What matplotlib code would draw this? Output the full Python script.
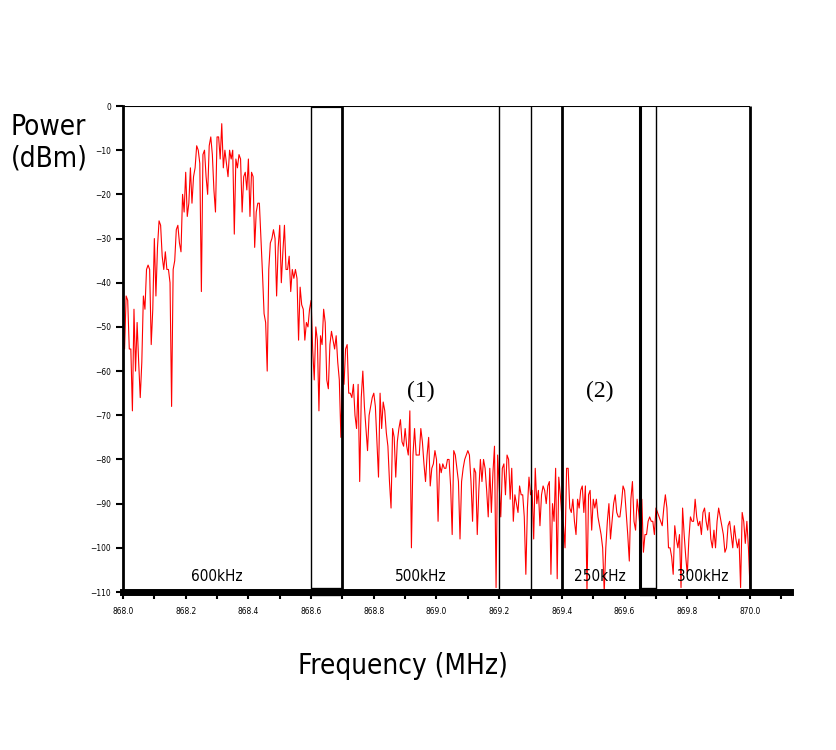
import numpy as np
import matplotlib.pyplot as plt
from matplotlib.ticker import MultipleLocator, FormatStrFormatter

# spectrum samples, 0.005 MHz apart, starting at 868.0 MHz
f_start = 868.0
f_step = 0.005

power_a = [-53, -55, -43, -44, -55, -55, -69, -46, -60, -49, -58, -66, -58, -43, -46, -37, -36, -37, -54, -46,
           -30, -43, -32, -26, -27, -34, -37, -33, -37, -37, -40, -68, -37, -35, -28, -27, -31, -33, -20, -24,
           -15, -25, -22, -14, -22, -16, -14, -9, -10, -13, -42, -11, -10, -16, -20, -9, -7, -11, -19, -24,
           -7, -7, -12, -4, -14, -10, -13, -16, -10, -12, -10, -29, -12, -14, -11, -12, -24, -16, -15, -19,
           -12, -25, -15, -16, -32, -24, -22, -22, -30, -38, -47, -49, -60, -37, -31, -30, -28, -30, -43, -32]
power_b = [-27, -40, -33, -27, -37, -37, -34, -42, -37, -39, -37, -39, -53, -41, -45, -46, -53, -49, -50, -46,
           -44, -55, -62, -50, -53, -69, -52, -54, -46, -49, -62, -64, -54, -51, -53, -55, -52, -58, -62, -75,
           -60, -63, -55, -54, -65, -65, -66, -63, -70, -73, -63, -85, -66, -60, -68, -73, -78, -70, -68, -66,
           -65, -68, -76, -84, -65, -73, -67, -69, -74, -77, -85, -91, -73, -75, -84, -76, -73, -71, -76, -77,
           -73, -77, -79, -69, -100, -79, -73, -79, -79, -79, -73, -76, -81, -85, -79, -75, -86, -82, -81, -78]
power_c = [-80, -94, -81, -83, -81, -82, -82, -80, -80, -86, -97, -78, -79, -82, -85, -98, -85, -82, -80, -79,
           -78, -79, -85, -94, -82, -83, -97, -87, -80, -85, -80, -82, -87, -93, -82, -92, -83, -77, -109, -79,
           -86, -93, -82, -81, -88, -79, -80, -89, -82, -94, -88, -90, -92, -86, -88, -88, -93, -106, -91, -84,
           -88, -87, -98, -82, -90, -87, -95, -88, -86, -87, -90, -86, -85, -106, -90, -94, -82, -107, -84, -88,
           -93, -95, -100, -82, -82, -91, -92, -89, -94, -97, -89, -91, -87, -86, -92, -86, -110, -88, -87, -96]
power_d = [-89, -91, -89, -93, -95, -97, -100, -110, -100, -94, -90, -98, -94, -90, -88, -92, -93, -93, -90, -86,
           -87, -92, -97, -103, -89, -85, -94, -96, -89, -92, -96, -89, -101, -97, -97, -94, -93, -94, -94, -97,
           -91, -92, -93, -94, -95, -91, -88, -91, -100, -100, -102, -106, -95, -98, -100, -97, -109, -91, -97, -102,
           -106, -98, -93, -94, -94, -89, -93, -95, -94, -97, -92, -91, -94, -96, -92, -98, -100, -96, -100, -94,
           -91, -93, -95, -97, -101, -100, -95, -94, -97, -100, -95, -98, -100, -98, -109, -92, -94, -99, -94, -100,
           -109]

band_edges = [868.6, 868.7, 869.2, 869.3, 869.4, 869.65, 869.7, 870.0]
edge_width = [1, 2, 1, 1, 2, 2.2, 1, 2]
band_names = ['600kHz', '500kHz', '250kHz', '300kHz']
band_pos = [868.3, 868.95, 869.52, 869.85]
marks = ['(1)', '(2)']
mark_pos = [868.95, 869.52]

power = np.array(power_a + power_b + power_c + power_d)
freq = f_start + f_step * np.arange(len(power))

plt.rcParams['font.family'] = ['DejaVu Sans']
plt.rcParams['font.stretch'] = 'condensed'

fig = plt.figure(figsize=(8.37, 7.5), dpi=100)
ax = fig.add_axes([123/837, 158/750, 667/837, 486/750])
ax.plot(freq, power, color='red', lw=0.8)
ax.set_xlim(868.0, 870.1276)
ax.set_ylim(-110, 0)

for s in ['top', 'right']:
    ax.spines[s].set_visible(False)
ax.spines['left'].set_linewidth(2)
ax.spines['bottom'].set_linewidth(5)

ax.hlines(0, f_start, 870.0, color='black', lw=1.5)
ax.vlines(band_edges, -110, 0, colors='black', lw=edge_width)
ax.hlines(0, band_edges[0], band_edges[1], color='black', lw=3)
ax.hlines(-110, band_edges[0], band_edges[1], color='black', lw=6, clip_on=False)
ax.hlines(-110, band_edges[5], band_edges[6], color='black', lw=6, clip_on=False)

ax.xaxis.set_major_locator(MultipleLocator(0.2))
ax.xaxis.set_minor_locator(MultipleLocator(0.1))
ax.xaxis.set_major_formatter(FormatStrFormatter('%.1f'))
ax.set_xticks(np.arange(868.0, 870.01, 0.2))
ax.yaxis.set_major_locator(MultipleLocator(10))
ax.tick_params(axis='both', which='both', direction='out', length=5, width=1.5, labelsize=6)
ax.tick_params(axis='x', pad=6)

for name, x in zip(band_names, band_pos):
    ax.text(x, -106.5, name, ha='center', va='center', fontsize=11)
for m, x in zip(marks, mark_pos):
    ax.text(x, -64.5, m, ha='center', va='center', fontsize=17, family=['Liberation Serif', 'DejaVu Serif'])

fig.text(11/837, 1 - 113/750, 'Power\n(dBm)', ha='left', va='top', fontsize=20, linespacing=1.15)
fig.text(403/837, 1 - 666/750, 'Frequency (MHz)', ha='center', va='center', fontsize=20)

fig.savefig('out.png', dpi=100)
